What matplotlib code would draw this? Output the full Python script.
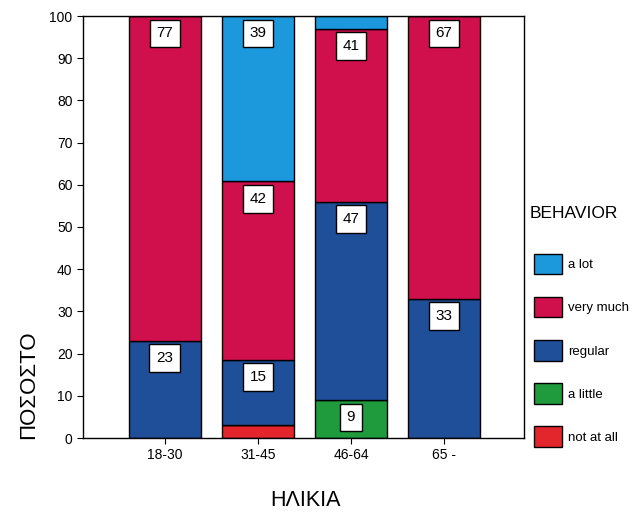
import matplotlib

matplotlib.use("Agg")
import matplotlib.pyplot as plt
from matplotlib.patches import Patch

plt.rcParams["font.family"] = ["Liberation Sans", "DejaVu Sans"]

age_groups = ["18-30", "31-45", "46-64", "65 -"]
# stacked bottom to top
categories = ["not at all", "a little", "regular", "very much", "a lot"]
colors = ["#e3262b", "#1f9a3c", "#1f4f98", "#d0104c", "#1c98dc"]
percent = {
    "not at all": [0, 3.1, 0, 0],
    "a little": [0, 0, 9, 0],
    "regular": [23, 15.4, 47, 33],
    "very much": [77, 42.3, 41, 67],
    "a lot": [0, 39.2, 3, 0],
}
shown = {
    "regular": [True, True, True, True],
    "very much": [True, True, True, True],
    "a lot": [False, True, False, False],
    "a little": [False, False, True, False],
}

fig = plt.figure(figsize=(6.41, 5.17), dpi=100)
ax = fig.add_axes([83 / 641, 1 - 438 / 517, 441 / 641, 422 / 517])

x = range(len(age_groups))
bottom = [0] * len(age_groups)
for cat, col in zip(categories, colors):
    vals = percent[cat]
    ax.bar(x, vals, width=0.77, bottom=bottom, color=col, edgecolor="black",
           linewidth=1.0)
    tops = [b + v for b, v in zip(bottom, vals)]
    for i, (t, v) in enumerate(zip(tops, vals)):
        if cat in shown and shown[cat][i]:
            ax.annotate(f"{round(v)}", xy=(i, t), xytext=(0, -7.5),
                        textcoords="offset points", ha="center", va="top",
                        fontsize=11,
                        bbox=dict(boxstyle="square,pad=0.45", fc="white",
                                  ec="black", lw=1.0))
    bottom = tops

ax.set_xlim(-0.88, 3.86)
ax.set_ylim(0, 100)
ax.set_yticks(range(0, 101, 10))
ax.set_xticks(list(x))
ax.set_xticklabels(age_groups)
ax.tick_params(axis="both", labelsize=10, direction="out", length=4,
               top=False, right=False)
for s in ax.spines.values():
    s.set_linewidth(1.0)

fig.text(305 / 641, 1 - 500 / 517, "ΗΛΙΚΙΑ", ha="center", va="center",
         fontsize=15.5)
fig.text(29 / 641, 1 - 385 / 517, "ΠΟΣΟΣΤΟ", ha="center", va="center",
         rotation=90, fontsize=16)

fig.text(530 / 641, 1 - 213 / 517, "BEHAVIOR", ha="left", va="center",
         fontsize=12.5)
handles = [Patch(facecolor=c, edgecolor="black", label=l)
           for l, c in zip(categories[::-1], colors[::-1])]
fig.legend(handles=handles, loc="upper left",
           bbox_to_anchor=(534 / 641, 1 - 254 / 517), frameon=False,
           fontsize=9.5, handlelength=2.1, handleheight=2.0,
           labelspacing=1.72, handletextpad=0.45, borderaxespad=0,
           borderpad=0)

fig.savefig("out.png", dpi=100)
